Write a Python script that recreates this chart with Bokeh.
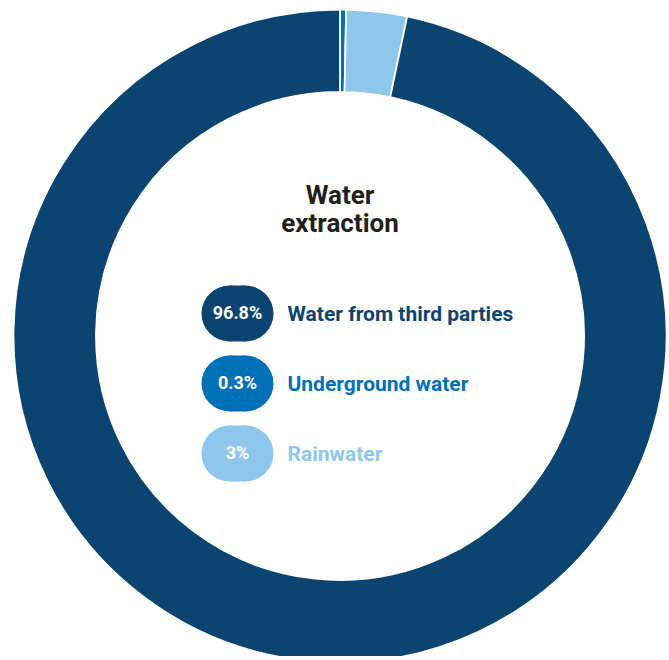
import math
from bokeh.plotting import figure
from bokeh.models import Range1d, ColumnDataSource
from bokeh.core.properties import value
from bokeh.embed import file_html
from bokeh.resources import INLINE

# ---- data ----
categories = ["Water from third parties", "Underground water", "Rainwater"]
shares = [96.8, 0.3, 3.0]
share_labels = ["96.8%", "0.3%", "3%"]
colors = ["#0b4470", "#0070b8", "#8fc7ec"]
title_lines = ["Water", "extraction"]
# clockwise drawing order of slices starting at 12 o'clock
ring_order = ["Underground water", "Rainwater", "Water from third parties"]

# ---- layout (page pixel coordinates) ----
W, H = 666, 656
PAGE_H = 660
cx, cy_page = 339.5, 335.5
r_out, r_in = 326.5, 244.0

def Y(page_y):
    return PAGE_H - page_y

p = figure(width=W, height=H, output_backend="svg", toolbar_location=None,
           x_range=Range1d(0, W), y_range=Range1d(PAGE_H - H, PAGE_H),
           min_border=0)
p.axis.visible = False
p.grid.visible = False
p.outline_line_color = None
p.background_fill_color = "white"
p.border_fill_color = "white"

# ---- donut ----
total = sum(shares)
starts, ends, cols = [], [], []
acc = 0.0
for name in ring_order:
    i = categories.index(name)
    frac = shares[i] / total
    s = math.pi / 2 - acc * 2 * math.pi
    e = s - frac * 2 * math.pi
    starts.append(s)
    ends.append(e)
    cols.append(colors[i])
    acc += frac
src = ColumnDataSource(dict(x=[cx] * len(starts), y=[Y(cy_page)] * len(starts),
                            start=starts, end=ends, color=cols))
p.annular_wedge(x="x", y="y", inner_radius=r_in, outer_radius=r_out,
                start_angle="start", end_angle="end", direction="clock",
                fill_color="color", line_color="white", line_width=1.8, source=src)

# ---- title ----
p.text(x=[cx, cx], y=[Y(194), Y(222)], text=title_lines,
       text_align="center", text_baseline="alphabetic",
       text_font=value("Roboto"), text_font_style="bold",
       text_font_size="26px", text_color="#231f20")

# ---- legend pills ----
pill_cx = 237
pill_w, pill_h = 72, 56
row_y = [313, 383, 453]
rad = pill_h / 2
for i, name in enumerate(categories):
    yc = Y(row_y[i])
    p.rect(x=[pill_cx], y=[yc], width=pill_w - pill_h, height=pill_h,
           fill_color=colors[i], line_color=None)
    p.circle(x=[pill_cx - (pill_w - pill_h) / 2, pill_cx + (pill_w - pill_h) / 2],
             y=[yc, yc], radius=rad, fill_color=colors[i], line_color=None)

p.text(x=[pill_cx] * 3, y=[Y(v - 1.5) for v in row_y], text=share_labels,
       text_align="center", text_baseline="alphabetic",
       text_font=value("Roboto"), text_font_style="bold",
       text_font_size="18px", text_color="white")

p.text(x=[287] * 3, y=[Y(v) for v in row_y], text=categories,
       text_align="left", text_baseline="alphabetic",
       text_font=value("Roboto"), text_font_style="bold",
       text_font_size="21px", text_color=colors)

open("out.html", "w").write(file_html(p, INLINE))
